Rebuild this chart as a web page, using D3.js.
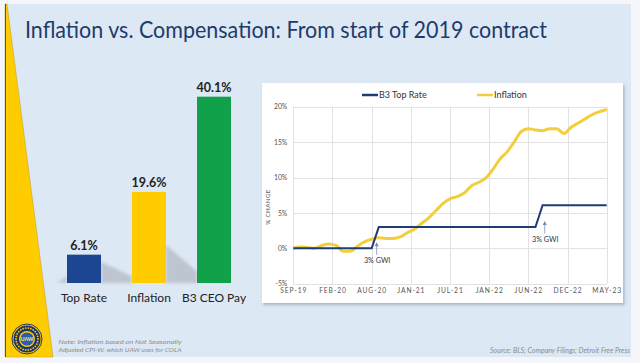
<!DOCTYPE html>
<html>
<head>
<meta charset="utf-8">
<script src="https://cdn.jsdelivr.net/npm/d3@7"></script>
<style>
  html, body { margin: 0; padding: 0; background: #f4f6fa; }
  svg { display: block; font-family: Lato, "Open Sans", sans-serif; }
</style>
</head>
<body>
<div id="chart"></div>
<script>
// bar chart values
const barCategories = ['Top Rate', 'Inflation', 'B3 CEO Pay'];
const barValues = [6.1, 19.6, 40.1];
const barColors = ['#1c4592', '#ffcc00', '#12a14b'];

// line chart: months since Sep-19 (0..44)
const xTickLabels = ['SEP-19', 'FEB-20', 'AUG-20', 'JAN-21', 'JUL-21', 'JAN-22', 'JUN-22', 'DEC-22', 'MAY-23'];
const yTicks = [-5, 0, 5, 10, 15, 20];
const topRate = [0, 0, 0, 0, 0, 0, 0, 0, 0, 0, 0, 0,
  3, 3, 3, 3, 3, 3, 3, 3, 3, 3, 3, 3, 3, 3, 3, 3, 3, 3, 3, 3, 3, 3, 3,
  6.09, 6.09, 6.09, 6.09, 6.09, 6.09, 6.09, 6.09, 6.09, 6.09];
const inflation = [0.0, 0.2, 0.1, 0.0, 0.4, 0.6, 0.4, -0.4, -0.4, 0.3, 0.9, 1.3,
  1.5, 1.4, 1.4, 1.6, 2.2, 2.7, 3.5, 4.3, 5.3, 6.3, 7.0, 7.3, 7.8, 8.8, 9.3, 9.9,
  11.1, 12.6, 13.6, 15.0, 16.5, 16.9, 16.7, 16.6, 16.9, 16.9, 16.2, 17.1,
  17.7, 18.3, 18.9, 19.3, 19.6];
const gwiNotes = [{at: 11.7, level: 0, label: '3% GWI'}, {at: 35.3, level: 3, label: '3% GWI'}];

const W = 640, H = 363;
const svg = d3.select('#chart').append('svg')
    .attr('width', W)
    .attr('height', H);

const defs = svg.append('defs');
defs.append('filter').attr('id', 'soft')
  .append('feGaussianBlur').attr('stdDeviation', 1.6);
const ds = defs.append('filter').attr('id', 'panelShadow')
    .attr('x', '-5%').attr('y', '-5%').attr('width', '115%').attr('height', '115%');
ds.append('feDropShadow')
    .attr('dx', 1.5).attr('dy', 2).attr('stdDeviation', 1.5)
    .attr('flood-color', '#6a7384').attr('flood-opacity', 0.45);

// slide background
svg.append('rect')
    .attr('x', 5).attr('y', 4).attr('width', 626).attr('height', 353)
    .attr('fill', '#dde8f5');

// yellow wedge on the left
svg.append('polygon')
    .attr('points', '5,4 7,4 53,357 5,357')
    .attr('fill', '#ffcc00')
    .attr('stroke', '#b59a3a')
    .attr('stroke-width', 0.5);
svg.append('line')
    .attr('x1', 5.5).attr('x2', 5.5).attr('y1', 4).attr('y2', 357)
    .attr('stroke', '#555').attr('stroke-width', 1);

// title
svg.append('text')
    .attr('x', 25).attr('y', 37.5)
    .attr('font-size', 24)
    .attr('fill', '#1f3b6b')
    .attr('textLength', 522)
    .attr('lengthAdjust', 'spacingAndGlyphs')
    .text('Inflation vs. Compensation: From start of 2019 contract');

// ---------- bar chart ----------
const xBar = d3.scaleBand()
    .domain(barCategories)
    .range([51.5, 246.5])
    .paddingInner(0.477)
    .paddingOuter(0.2385);
const yBar = d3.scaleLinear()
    .domain([0, 45])
    .range([283, 283 - 45 * 4.646]);

const bars = barCategories.map((c, i) => ({cat: c, val: barValues[i], color: barColors[i]}));

// soft cast shadows behind bars
svg.append('g').attr('filter', 'url(#soft)')
  .selectAll('polygon')
  .data(bars.slice(0, 2))
  .join('polygon')
    .attr('points', d => {
      const x1 = xBar(d.cat) + xBar.bandwidth();
      const h = yBar(0) - yBar(d.val);
      const s = Math.min(h * 0.75, 38);
      const x2 = x1 + xBar.step() - xBar.bandwidth();
      return [[x1, yBar(0) - s], [x2, yBar(0) - s * 0.3], [x2, yBar(0)], [x1, yBar(0)]].join(' ');
    })
    .attr('fill', '#b3bac4')
    .attr('opacity', 0.75);
svg.append('polygon')
    .attr('points', [[xBar(barCategories[0]) - 10, yBar(0)], [xBar(barCategories[0]), yBar(0) - 7], [xBar(barCategories[0]), yBar(0)]].join(' '))
    .attr('fill', '#b3bac4').attr('opacity', 0.7).attr('filter', 'url(#soft)');

svg.append('g').selectAll('rect')
  .data(bars)
  .join('rect')
    .attr('x', d => xBar(d.cat))
    .attr('y', d => yBar(d.val))
    .attr('width', xBar.bandwidth())
    .attr('height', d => yBar(0) - yBar(d.val))
    .attr('fill', d => d.color);

svg.append('g').selectAll('text')
  .data(bars)
  .join('text')
    .attr('x', d => xBar(d.cat) + xBar.bandwidth() / 2)
    .attr('y', d => yBar(d.val) - 4.5)
    .attr('text-anchor', 'middle')
    .attr('font-size', 12.5)
    .attr('font-weight', 'bold')
    .attr('fill', '#222')
    .text(d => d.val.toFixed(1) + '%');

svg.append('g').selectAll('text')
  .data(bars)
  .join('text')
    .attr('x', d => xBar(d.cat) + xBar.bandwidth() / 2)
    .attr('y', 302)
    .attr('text-anchor', 'middle')
    .attr('font-size', 12)
    .attr('fill', '#222')
    .text(d => d.cat);

// note
const note = svg.append('g')
    .attr('font-size', 6.4)
    .attr('font-style', 'italic')
    .attr('fill', '#8c8c8c');
note.append('text').attr('x', 58.5).attr('y', 344)
    .attr('textLength', 123).attr('lengthAdjust', 'spacingAndGlyphs')
    .text('Note: Inflation based on Not Seasonally');
note.append('text').attr('x', 58.5).attr('y', 351.5)
    .attr('textLength', 123).attr('lengthAdjust', 'spacingAndGlyphs')
    .text('Adjusted CPI-W, which UAW uses for COLA');

// logo
const logo = svg.append('g').attr('transform', 'translate(27,339)');
logo.append('circle').attr('r', 15).attr('fill', '#ffcc00').attr('stroke', '#1f3569').attr('stroke-width', 1);
logo.append('circle').attr('r', 13.5).attr('fill', '#1f3569');
logo.append('g').selectAll('circle')
  .data(d3.range(26))
  .join('circle')
    .attr('cx', d => 11 * Math.cos(d / 26 * 2 * Math.PI))
    .attr('cy', d => 11 * Math.sin(d / 26 * 2 * Math.PI))
    .attr('r', 0.9)
    .attr('fill', '#ffcc00');
logo.append('circle').attr('r', 8).attr('fill', '#ffcc00');
logo.append('circle').attr('r', 6.6).attr('fill', '#2a5db0');
logo.append('text')
    .attr('y', 1.8).attr('text-anchor', 'middle')
    .attr('font-size', 5.2).attr('font-weight', 'bold')
    .attr('fill', '#ffe680')
    .text('UAW');

// ---------- line chart panel ----------
svg.append('rect')
    .attr('x', 262).attr('y', 83).attr('width', 361).attr('height', 220)
    .attr('fill', '#fff')
    .attr('filter', 'url(#panelShadow)');

const x = d3.scaleLinear().domain([0, 44]).range([293.3, 606.7]);
const y = d3.scaleLinear().domain([-5, 20]).range([283.7, 106.7]);
const xTickVals = xTickLabels.map((d, i) => i * 5.5);

const grid = svg.append('g').attr('stroke', '#e2e2e2').attr('stroke-width', 1);
grid.selectAll('.h')
  .data(yTicks)
  .join('line')
    .attr('class', 'h')
    .attr('x1', x(0)).attr('x2', x(44))
    .attr('y1', d => Math.round(y(d)) + 0.5)
    .attr('y2', d => Math.round(y(d)) + 0.5);
grid.selectAll('.v')
  .data(xTickVals)
  .join('line')
    .attr('class', 'v')
    .attr('y1', y(20)).attr('y2', y(-5))
    .attr('x1', d => Math.round(x(d)) + 0.5)
    .attr('x2', d => Math.round(x(d)) + 0.5);

// y axis labels
const yAxis = svg.append('g')
    .attr('transform', `translate(${x(0) - 6},0)`)
    .call(d3.axisLeft(y).tickValues(yTicks).tickSize(0).tickPadding(0).tickFormat(d => d + '%'));
yAxis.select('.domain').remove();
yAxis.selectAll('text')
    .attr('font-family', 'Lato, sans-serif')
    .attr('font-size', 6.8)
    .attr('fill', '#555');

// x axis labels
const xAxis = svg.append('g')
    .attr('transform', `translate(0,${y(-5) + 5})`)
    .call(d3.axisBottom(x).tickValues(xTickVals).tickSize(0).tickPadding(0)
      .tickFormat((d, i) => xTickLabels[i]));
xAxis.select('.domain').remove();
xAxis.selectAll('text')
    .attr('font-family', 'Lato, sans-serif')
    .attr('font-size', 6.7)
    .attr('letter-spacing', 0.9)
    .attr('fill', '#555');

// y title
svg.append('text')
    .attr('transform', 'translate(270,207) rotate(-90)')
    .attr('text-anchor', 'middle')
    .attr('font-size', 6.3)
    .attr('letter-spacing', 0.3)
    .attr('fill', '#555')
    .text('% CHANGE');

// lines
const infLine = d3.line()
    .x((d, i) => x(i))
    .y(d => y(d))
    .curve(d3.curveMonotoneX);
svg.append('path')
    .datum(inflation)
    .attr('d', infLine)
    .attr('fill', 'none')
    .attr('stroke', '#f1cf3c')
    .attr('stroke-width', 3)
    .attr('stroke-linejoin', 'round');

const rateLine = d3.line()
    .x((d, i) => x(i))
    .y(d => y(d));
svg.append('path')
    .datum(topRate)
    .attr('d', rateLine)
    .attr('fill', 'none')
    .attr('stroke', '#1f3c74')
    .attr('stroke-width', 2);

// GWI annotations
const ann = svg.append('g').selectAll('g')
  .data(gwiNotes)
  .join('g');
ann.append('line')
    .attr('x1', d => x(d.at)).attr('x2', d => x(d.at))
    .attr('y1', d => y(d.level) - 3.5)
    .attr('y2', d => y(d.level) + 6.5)
    .attr('stroke', '#7f93b8').attr('stroke-width', 0.8);
ann.append('path')
    .attr('d', d => {
      const ax = x(d.at), ay = y(d.level) - 6;
      return `M${ax},${ay} L${ax - 2},${ay + 4} L${ax + 2},${ay + 4} Z`;
    })
    .attr('fill', '#6f86b3');
ann.append('text')
    .attr('x', d => x(d.at) + 0.5)
    .attr('y', d => y(d.level) + 14.5)
    .attr('text-anchor', 'middle')
    .attr('font-size', 7.2)
    .attr('fill', '#333')
    .text(d => d.label);

// legend
const legendItems = [
  {label: 'B3 Top Rate', color: '#1f3c74', x: 362},
  {label: 'Inflation', color: '#f1cf3c', x: 477}
];
const lg = svg.append('g').selectAll('g')
  .data(legendItems)
  .join('g')
    .attr('transform', d => `translate(${d.x},95)`);
lg.append('line')
    .attr('x1', 0).attr('x2', 16)
    .attr('stroke', d => d.color).attr('stroke-width', 2.5);
lg.append('text')
    .attr('x', 17).attr('y', 3.2)
    .attr('font-size', 9)
    .attr('fill', '#333')
    .text(d => d.label);

// source
svg.append('text')
    .attr('x', 630).attr('y', 353)
    .attr('text-anchor', 'end')
    .attr('font-size', 6.8)
    .attr('font-style', 'italic')
    .attr('fill', '#8c8c8c')
    .attr('textLength', 140)
    .attr('lengthAdjust', 'spacingAndGlyphs')
    .text('Source: BLS; Company Filings; Detroit Free Press');
</script>
</body>
</html>
